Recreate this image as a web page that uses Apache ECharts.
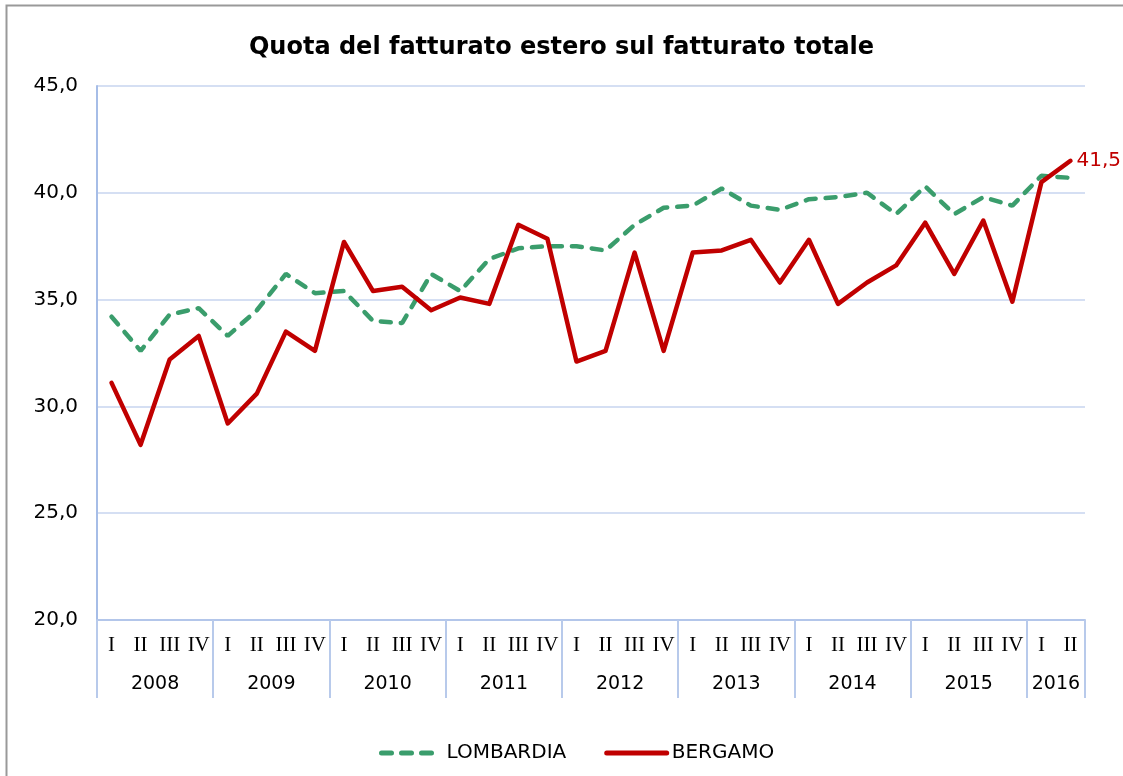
<!DOCTYPE html>
<html>
<head>
<meta charset="utf-8">
<script src="https://cdn.jsdelivr.net/npm/echarts@6/dist/echarts.min.js"></script>
<style>
html,body{margin:0;padding:0;background:#fff;}
#chart{width:1123px;height:776px;}
</style>
</head>
<body>
<div id="chart"></div>
<script>
const quarterNames = ['I','II','III','IV','I','II','III','IV','I','II','III','IV','I','II','III','IV','I','II','III','IV','I','II','III','IV','I','II','III','IV','I','II','III','IV','I','II'];
const years = ['2008','2009','2010','2011','2012','2013','2014','2015','2016'];
const lombardia = [34.2, 32.6, 34.3, 34.6, 33.3, 34.5, 36.2, 35.3, 35.4, 34.0, 33.9, 36.2, 35.4, 36.9, 37.4, 37.5, 37.5, 37.3, 38.5, 39.3, 39.4, 40.2, 39.4, 39.2, 39.7, 39.8, 40.0, 39.0, 40.3, 39.0, 39.8, 39.4, 40.8, 40.7];
const bergamo = [31.1, 28.2, 32.2, 33.3, 29.2, 30.6, 33.5, 32.6, 37.7, 35.4, 35.6, 34.5, 35.1, 34.8, 38.5, 37.85, 32.1, 32.6, 37.2, 32.6, 37.2, 37.3, 37.8, 35.8, 37.8, 34.8, 35.8, 36.6, 38.6, 36.2, 38.7, 34.9, 40.5, 41.5];
const yTicks = [20, 25, 30, 35, 40, 45];

const n = quarterNames.length;
// year axis: boundary positions 0..n, year label at group center
const yearAxisData = new Array(n + 1).fill('');
const boundaries = new Set([n]);
years.forEach((y, k) => {
  const start = 4 * k;
  const count = Math.min(4, n - start);
  boundaries.add(start);
  yearAxisData[start + count / 2] = y;
});

const fmt = v => v.toFixed(1).replace('.', ',');
const sans = 'DejaVu Sans';
const chart = echarts.init(document.getElementById('chart'));
chart.setOption({
  animation: false,
  backgroundColor: '#fff',
  title: {
    text: 'Quota del fatturato estero sul fatturato totale',
    left: 'center', top: 31,
    textStyle: {fontFamily: sans, fontWeight: 'bold', fontSize: 24, color: '#000'}
  },
  graphic: [{
    type: 'rect', left: 4, top: 3, silent: true,
    shape: {x: 0, y: 0, width: 1300, height: 900},
    style: {fill: 'none', stroke: '#999', lineWidth: 2}
  }],
  grid: {left: 97, right: 38, top: 86, bottom: 156, containLabel: false},
  legend: {
    left: 374, top: 738, itemWidth: 60, itemHeight: 20, itemGap: 38,
    itemStyle: {opacity: 0},
    lineStyle: {width: 5},
    textStyle: {fontFamily: sans, fontSize: 20, color: '#000'},
    data: ['LOMBARDIA', 'BERGAMO']
  },
  xAxis: [{
    type: 'category', data: quarterNames, boundaryGap: true, position: 'bottom',
    axisLine: {show: true, lineStyle: {color: '#B3C6EA', width: 2}},
    axisTick: {show: false},
    axisLabel: {interval: 0, margin: 15, fontFamily: 'Liberation Serif', fontSize: 21, color: '#000'},
    splitLine: {show: false}
  }, {
    type: 'category', data: yearAxisData, boundaryGap: false, position: 'bottom',
    axisLine: {show: false},
    axisTick: {show: true, length: 78, interval: (i) => boundaries.has(i), lineStyle: {color: '#B8CAEB', width: 2}},
    axisLabel: {interval: 0, margin: 55, fontFamily: sans, fontSize: 19, color: '#000'},
    splitLine: {show: false}
  }],
  yAxis: {
    type: 'value', min: yTicks[0], max: yTicks[yTicks.length - 1], interval: 5,
    axisLine: {show: true, lineStyle: {color: '#A6BDE7', width: 2}},
    axisTick: {show: false},
    axisLabel: {margin: 19, formatter: v => fmt(v), fontFamily: sans, fontSize: 20, color: '#000'},
    splitLine: {show: true, lineStyle: {color: '#C7D5EF', width: 1.5}}
  },
  series: [{
    name: 'LOMBARDIA', type: 'line', data: lombardia, xAxisIndex: 0,
    symbol: 'none', showSymbol: false,
    itemStyle: {color: '#3A9D6C'},
    lineStyle: {color: '#3A9D6C', width: 4.5, type: [10, 10], cap: 'round'}
  }, {
    name: 'BERGAMO', type: 'line', data: bergamo, xAxisIndex: 0,
    symbol: 'none', showSymbol: false,
    itemStyle: {color: '#C00000'},
    lineStyle: {color: '#C00000', width: 4.5, cap: 'round', join: 'round'},
    endLabel: {show: true, formatter: p => fmt(p.value), color: '#C00000', fontFamily: sans, fontSize: 20, distance: 6}
  }]
});
</script>
</body>
</html>
